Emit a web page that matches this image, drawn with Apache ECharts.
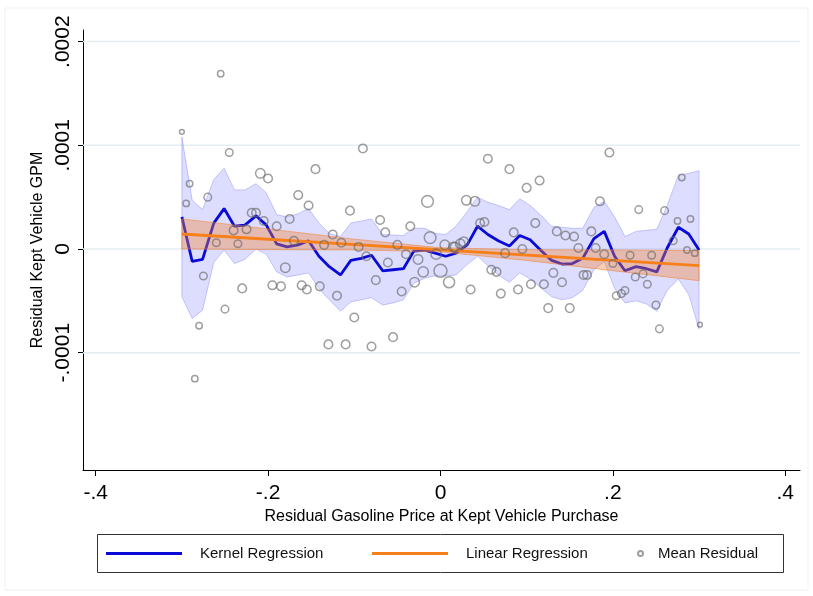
<!DOCTYPE html>
<html>
<head>
<meta charset="utf-8">
<script src="https://cdn.jsdelivr.net/npm/echarts@6/dist/echarts.min.js"></script>
</head>
<body style="margin:0;background:#fff">
<div id="chart" style="width:813px;height:596px"></div>
<script>
var chart = echarts.init(document.getElementById('chart'));

// y values are stored in units of 1e-4
var S = 1e-4;

// kernel regression (lpoly grid) with its confidence band
var kernelX = [-0.300, -0.288, -0.276, -0.263, -0.251, -0.239, -0.227, -0.214, -0.202, -0.190,
  -0.178, -0.165, -0.153, -0.141, -0.129, -0.116, -0.104, -0.092, -0.080, -0.067,
  -0.055, -0.043, -0.031, -0.018, -0.006, 0.006, 0.018, 0.031, 0.043, 0.055,
  0.067, 0.080, 0.092, 0.104, 0.116, 0.129, 0.141, 0.153, 0.165, 0.178,
  0.190, 0.202, 0.214, 0.227, 0.239, 0.251, 0.263, 0.276, 0.288, 0.300];
var kernelY = [0.31, -0.12, -0.10, 0.25, 0.39, 0.22, 0.23, 0.32, 0.23, 0.05,
  0.02, 0.04, 0.08, -0.07, -0.17, -0.25, -0.11, -0.09, -0.06, -0.21,
  -0.20, -0.19, -0.02, -0.01, -0.04, -0.07, -0.04, 0.04, 0.22, 0.14,
  0.08, 0.03, 0.13, 0.09, -0.01, -0.11, -0.145, -0.14, -0.09, 0.10,
  0.17, -0.07, -0.21, -0.17, -0.19, -0.22, 0.01, 0.21, 0.145, -0.01];
var kernelHi = [1.08, 0.47, 0.38, 0.67, 0.78, 0.57, 0.57, 0.63, 0.54, 0.33,
  0.31, 0.34, 0.39, 0.25, 0.15, 0.12, 0.25, 0.27, 0.29, 0.14,
  0.135, 0.13, 0.20, 0.20, 0.15, 0.14, 0.22, 0.36, 0.50, 0.45,
  0.42, 0.38, 0.485, 0.42, 0.33, 0.22, 0.21, 0.20, 0.20, 0.40,
  0.46, 0.31, 0.12, 0.17, 0.18, 0.19, 0.42, 0.71, 0.73, 0.755];
var kernelLo = [-0.46, -0.67, -0.59, -0.13, -0.01, -0.14, -0.10, 0.00, -0.05, -0.22,
  -0.27, -0.25, -0.23, -0.38, -0.49, -0.60, -0.51, -0.49, -0.47, -0.54,
  -0.52, -0.49, -0.33, -0.28, -0.26, -0.26, -0.25, -0.15, -0.07, -0.16,
  -0.25, -0.32, -0.23, -0.29, -0.37, -0.46, -0.49, -0.47, -0.40, -0.20,
  -0.12, -0.38, -0.52, -0.50, -0.53, -0.60, -0.40, -0.29, -0.44, -0.77];

// linear fit and its confidence band
var fitX = [-0.3, 0.3];
var fitY = [0.145, -0.16];
var fitCiX = [-0.3, -0.2, -0.1, 0, 0.1, 0.2, 0.3];
var fitCiHi = [0.29, 0.194, 0.095, 0.0125, -0.006, -0.009, -0.015];
var fitCiLo = [0.00, -0.006, -0.009, -0.0275, -0.11, -0.209, -0.305];

// binned mean residuals (n = observations in bin, sets marker size)
var meanX = [-0.300, -0.255, -0.245, -0.291, -0.295, -0.270, -0.209, -0.200, -0.219, -0.214,
  -0.240, -0.225, -0.205, -0.190, -0.175, -0.165, -0.153, -0.260, -0.235, -0.275,
  -0.230, -0.250, -0.280, -0.285, -0.180, -0.195, -0.185, -0.161, -0.155, -0.140,
  -0.120, -0.100, -0.130, -0.110, -0.080, -0.055, -0.075, -0.045, -0.030, -0.020,
  0.000, 0.010, -0.026, -0.061, -0.012, -0.005, 0.005, 0.015, -0.105, -0.070,
  -0.064, -0.035, -0.015, -0.125, -0.115, -0.135, -0.095, -0.050, -0.040, -0.170,
  -0.090, -0.145, -0.086, 0.055, 0.080, 0.115, 0.100, 0.030, 0.040, 0.046,
  0.051, 0.110, 0.085, 0.135, 0.145, 0.155, 0.196, 0.185, 0.230, 0.260,
  0.280, 0.275, 0.290, 0.270, 0.286, 0.295, 0.245, 0.220, 0.240, 0.235,
  0.226, 0.214, 0.210, 0.204, 0.175, 0.160, 0.180, 0.190, 0.200, 0.095,
  0.075, 0.059, 0.065, 0.131, 0.141, 0.166, 0.170, 0.105, 0.120, 0.090,
  0.070, 0.035, 0.017, 0.023, 0.027, 0.125, 0.150, 0.254, 0.301, 0.250];
var meanY = [1.13, 1.69, 0.93, 0.63, 0.44, 0.50, 0.73, 0.68, 0.35, 0.35,
  0.18, 0.19, 0.27, 0.22, 0.29, 0.52, 0.42, 0.06, 0.05, -0.26,
  -0.38, -0.58, -0.74, -1.25, -0.18, -0.35, -0.36, -0.35, -0.39, -0.36,
  -0.45, -0.66, -0.92, -0.92, -0.94, -0.85, -0.30, -0.41, -0.32, -0.22,
  -0.21, -0.32, -0.10, -0.13, 0.11, -0.05, 0.04, 0.02, 0.37, 0.28,
  0.16, 0.22, 0.46, 0.14, 0.06, 0.04, 0.02, 0.04, -0.05, 0.08,
  0.97, 0.77, -0.07, 0.87, 0.77, 0.66, 0.59, 0.47, 0.46, 0.25,
  0.26, 0.25, 0.16, 0.17, 0.13, 0.12, 0.93, 0.46, 0.38, 0.37,
  0.69, 0.27, 0.29, 0.08, -0.01, -0.04, -0.06, -0.06, -0.34, -0.24,
  -0.27, -0.40, -0.43, -0.45, 0.17, 0.01, 0.01, -0.05, -0.14, 0.00,
  -0.04, -0.20, -0.22, -0.23, -0.32, -0.25, -0.25, -0.34, -0.34, -0.39,
  -0.43, -0.39, 0.02, 0.05, 0.07, -0.57, -0.57, -0.77, -0.73, -0.54];
var meanN = [1, 2, 3, 2, 2, 3, 5, 4, 4, 4,
  4, 4, 4, 4, 4, 4, 4, 3, 3, 3,
  4, 3, 2, 2, 5, 4, 4, 4, 4, 4,
  4, 4, 4, 4, 4, 4, 4, 4, 5, 6,
  10, 7, 5, 4, 8, 6, 5, 5, 4, 4,
  4, 4, 8, 4, 4, 4, 4, 4, 4, 4,
  4, 4, 4, 4, 4, 4, 4, 5, 5, 4,
  4, 4, 4, 4, 4, 4, 4, 4, 3, 3,
  2, 2, 2, 3, 2, 2, 3, 3, 3, 3,
  3, 3, 3, 3, 4, 4, 4, 4, 3, 4,
  4, 4, 4, 4, 4, 4, 4, 4, 4, 4,
  4, 4, 5, 5, 5, 4, 4, 3, 1, 3];

// axes
var xTicks = [-0.4, -0.2, 0, 0.2, 0.4];
var xTickLabels = ['-.4', '-.2', '0', '.2', '.4'];
var yTicks = [-0.0001, 0, 0.0001, 0.0002];
var yTickLabels = ['-.0001', '0', '.0001', '.0002'];
var X_MIN = -0.4147, X_MAX = 0.4171;
var Y_MIN = -0.0002131, Y_MAX = 0.0002112;

var FONT = '"Liberation Sans", Arial, sans-serif';

function pickLabel(ticks, labels, v) {
  for (var i = 0; i < ticks.length; i++) {
    if (Math.abs(ticks[i] - v) < 1e-9) return labels[i];
  }
  return '';
}

function band(name, xs, lo, hi, fill, stroke, z) {
  return {
    type: 'custom',
    name: name,
    silent: true,
    z: z,
    data: [[0, 0]],
    renderItem: function (params, api) {
      var pts = [];
      for (var i = 0; i < xs.length; i++) pts.push(api.coord([xs[i], hi[i] * S]));
      for (var j = xs.length - 1; j >= 0; j--) pts.push(api.coord([xs[j], lo[j] * S]));
      return {
        type: 'polygon',
        shape: { points: pts },
        style: { fill: fill, stroke: stroke, lineWidth: 1 }
      };
    }
  };
}

var pairs = function (xs, ys) {
  return xs.map(function (x, i) { return [x, ys[i] * S]; });
};

var legendText = { fontSize: 15, fontFamily: FONT, color: '#111' };

var option = {
  animation: false,
  backgroundColor: '#fff',
  textStyle: { fontFamily: FONT, color: '#000' },
  graphic: [
    { type: 'rect', shape: { x: 5, y: 8, width: 803, height: 582 },
      style: { fill: 'none', stroke: '#eef1f3', lineWidth: 1 }, silent: true },
    { type: 'rect', shape: { x: 97.5, y: 534.5, width: 686, height: 38 },
      style: { fill: 'none', stroke: '#333', lineWidth: 1 }, silent: true }
  ],
  grid: { left: 83, right: 13, top: 30, bottom: 126, outerBoundsMode: 'none' },
  legend: [
    { data: [{ name: 'Kernel Regression', icon: 'rect' }], left: 106, top: 546,
      itemWidth: 76, itemHeight: 3, padding: 0,
      textStyle: Object.assign({ padding: [0, 0, 0, 13] }, legendText) },
    { data: [{ name: 'Linear Regression', icon: 'rect' }], left: 372, top: 546,
      itemWidth: 76, itemHeight: 3, padding: 0,
      textStyle: Object.assign({ padding: [0, 0, 0, 13] }, legendText) },
    { data: [{ name: 'Mean Residual', icon: 'circle' }], left: 637, top: 546,
      itemWidth: 5, itemHeight: 5, padding: 0,
      textStyle: Object.assign({ padding: [0, 0, 0, 10] }, legendText) }
  ],
  xAxis: {
    type: 'value',
    min: X_MIN,
    max: X_MAX,
    name: 'Residual Gasoline Price at Kept Vehicle Purchase',
    nameLocation: 'middle',
    nameGap: 38,
    nameTextStyle: { fontSize: 16, fontFamily: FONT, color: '#000' },
    axisLine: { show: true, onZero: false, lineStyle: { color: '#000', width: 1 } },
    axisTick: { show: true, length: 6, customValues: xTicks, lineStyle: { color: '#000' } },
    axisLabel: {
      customValues: xTicks, fontSize: 21, color: '#000', margin: 13,
      formatter: function (v) { return pickLabel(xTicks, xTickLabels, v); }
    },
    splitLine: { show: false }
  },
  yAxis: {
    type: 'value',
    min: Y_MIN,
    max: Y_MAX,
    name: 'Residual Kept Vehicle GPM',
    nameLocation: 'middle',
    nameGap: 36,
    nameRotate: 90,
    nameTextStyle: { fontSize: 16, fontFamily: FONT, color: '#000' },
    axisLine: { show: true, onZero: false, lineStyle: { color: '#000', width: 1 } },
    axisTick: { show: true, length: 5, customValues: yTicks, lineStyle: { color: '#000' } },
    axisLabel: {
      customValues: yTicks, rotate: 90, fontSize: 21, color: '#000', margin: 9,
      formatter: function (v) { return pickLabel(yTicks, yTickLabels, v); }
    },
    splitLine: { show: false }
  },
  series: [
    {
      type: 'custom',
      name: 'grid',
      silent: true,
      z: 1,
      data: yTicks.map(function (v) { return [0, v]; }),
      renderItem: function (params, api) {
        var v = api.value(1);
        var a = api.coord([X_MIN, v]);
        var b = api.coord([X_MAX, v]);
        return { type: 'line', shape: { x1: a[0], y1: a[1], x2: b[0], y2: b[1] },
          style: { stroke: '#e4eef1', lineWidth: 1.5 } };
      }
    },
    band('kernelCI', kernelX, kernelLo, kernelHi, 'rgba(120,120,255,0.25)', 'rgba(110,110,245,0.35)', 2),
    {
      type: 'line',
      name: 'Kernel Regression',
      z: 3,
      data: pairs(kernelX, kernelY),
      showSymbol: false,
      color: '#0a0ad8',
      lineStyle: { color: '#0a0ad8', width: 2.8 }
    },
    band('linearCI', fitCiX, fitCiLo, fitCiHi, 'rgba(240,130,50,0.38)', 'rgba(240,130,50,0.55)', 4),
    {
      type: 'line',
      name: 'Linear Regression',
      z: 5,
      data: pairs(fitX, fitY),
      showSymbol: false,
      color: '#f7801a',
      lineStyle: { color: '#f7801a', width: 2.8 }
    },
    {
      type: 'scatter',
      name: 'Mean Residual',
      z: 6,
      data: meanX.map(function (x, i) { return [x, meanY[i] * S, meanN[i]]; }),
      symbol: 'circle',
      symbolSize: function (d) { return 1 + 3.8 * Math.sqrt(d[2]); },
      itemStyle: { color: 'rgba(255,255,255,0)', borderColor: 'rgba(105,105,105,0.8)', borderWidth: 1.5 }
    }
  ]
};

chart.setOption(option);
</script>
</body>
</html>
